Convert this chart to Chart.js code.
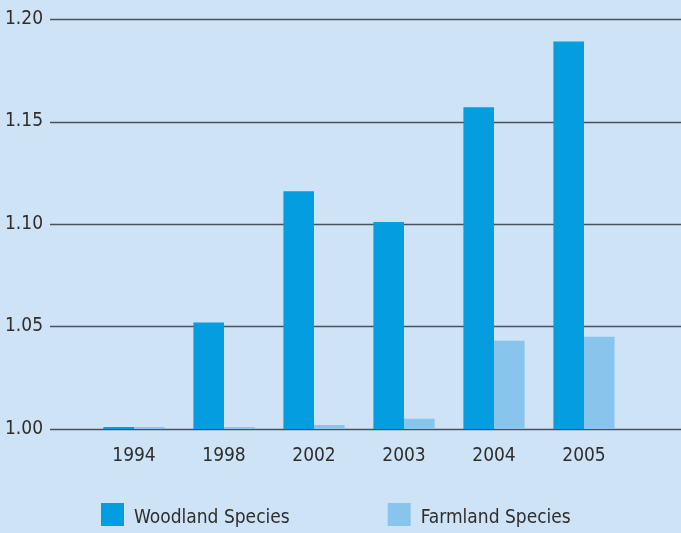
<!DOCTYPE html>
<html>
<head>
<meta charset="utf-8">
<script src="https://cdn.jsdelivr.net/npm/chart.js@4/dist/chart.umd.min.js"></script>
<style>
  html, body { margin: 0; padding: 0; background: #cee3f6; }
  #wrap { width: 681px; height: 533px; }
</style>
</head>
<body>
<div id="wrap"><canvas id="birds"></canvas></div>
<script>
const years = ['1994', '1998', '2002', '2003', '2004', '2005'];
const woodland = [1.001, 1.052, 1.116, 1.101, 1.157, 1.189];
const farmland = [1.001, 1.001, 1.002, 1.005, 1.043, 1.045];
const yTicks = [1.00, 1.05, 1.10, 1.15, 1.20];

const FONT = '"Liberation Sans Narrow", "DejaVu Sans Condensed", "Arial Narrow", sans-serif';
const TEXT = '#2e2e2e';
const GRID = '#47525e';

const background = {
    id: 'background',
    beforeDraw: (chart) => {
        const ctx = chart.ctx;
        ctx.save();
        ctx.fillStyle = '#cee3f6';
        ctx.fillRect(0, 0, chart.width, chart.height);
        ctx.restore();
    }
};

// the horizontal rules run past the plot area on both sides
const wideGrid = {
    id: 'wideGrid',
    beforeDatasetsDraw: (chart) => {
        const ctx = chart.ctx;
        const y = chart.scales.y;
        ctx.save();
        ctx.strokeStyle = GRID;
        ctx.lineWidth = 1.7;
        y.ticks.forEach((t) => {
            const py = Math.round(y.getPixelForValue(t.value)) + 0.5;
            ctx.beginPath();
            ctx.moveTo(50, py);
            ctx.lineTo(chart.width, py);
            ctx.stroke();
        });
        ctx.restore();
    }
};

// legend drawn by hand so the wide gap between the two items can be kept
const bottomLegend = {
    id: 'bottomLegend',
    afterDraw: (chart) => {
        const ctx = chart.ctx;
        ctx.save();
        ctx.font = '19px ' + FONT;
        ctx.textBaseline = 'middle';
        let x = 101;
        const y = 515;
        chart.data.datasets.forEach((ds) => {
            ctx.fillStyle = ds.backgroundColor;
            ctx.fillRect(x, y - 12, 23, 23);
            ctx.fillStyle = TEXT;
            ctx.fillText(ds.label, x + 33, y + 3);
            x += 33 + ctx.measureText(ds.label).width + 98;
        });
        ctx.restore();
    }
};

const ctx = document.getElementById('birds').getContext('2d');
const chart = new Chart(ctx, {
    type: 'bar',
    data: {
        labels: years,
        datasets: [
            { label: 'Woodland Species', data: woodland, backgroundColor: '#039de0' },
            { label: 'Farmland Species', data: farmland, backgroundColor: '#88c4eb' }
        ]
    },
    options: {
        responsive: true,
        maintainAspectRatio: false,
        animation: false,
        events: [],
        categoryPercentage: 0.68,
        barPercentage: 1.0,
        layout: { padding: { top: 19, bottom: 64, left: 0, right: 52 } },
        plugins: {
            legend: { display: false },
            tooltip: { enabled: false }
        },
        scales: {
            x: {
                grid: { display: false, drawTicks: false },
                border: { display: false },
                ticks: { color: TEXT, font: { family: FONT, size: 19 }, padding: 16, maxRotation: 0 },
                afterFit: (scale) => { scale.height = 40; }
            },
            y: {
                min: 1.0,
                max: 1.2,
                afterBuildTicks: (scale) => { scale.ticks = yTicks.map(v => ({ value: v })); },
                grid: { color: 'rgba(0,0,0,0)', tickColor: 'rgba(0,0,0,0)', tickLength: 39 },
                border: { display: false },
                ticks: {
                    color: TEXT,
                    font: { family: FONT, size: 19 },
                    padding: 7,
                    callback: (v) => v.toFixed(2)
                },
                afterFit: (scale) => { scale.width = 89; }
            }
        }
    },
    plugins: [background, wideGrid, bottomLegend]
});
</script>
</body>
</html>
